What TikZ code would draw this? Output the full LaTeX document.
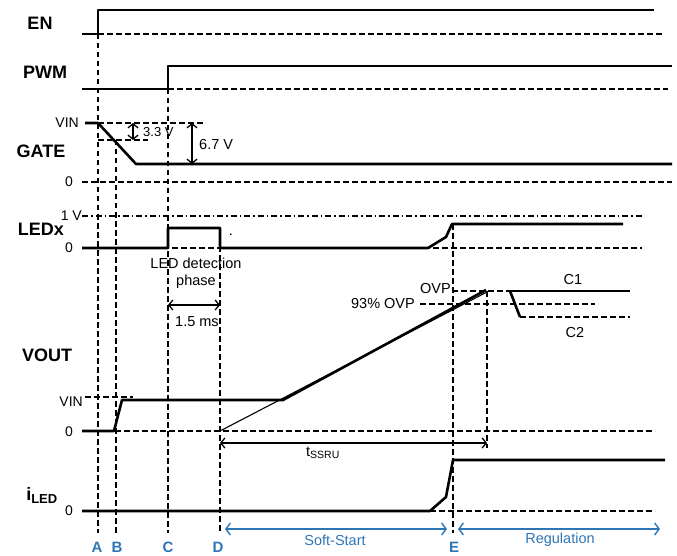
\documentclass[tikz,border=0pt]{standalone}
\usepackage{fontspec}
\setmainfont{Liberation Sans}
\usetikzlibrary{arrows.meta}
\definecolor{tiblue}{RGB}{46,117,182}

\begin{document}
\begin{tikzpicture}[x=1pt, y=-1pt,
  signal/.style={line width=2.6pt, line join=round},
  ref/.style={line width=1.5pt, dash pattern=on 5.5pt off 3.5pt},
  dashdot/.style={line width=1.2pt, dash pattern=on 6pt off 3pt on 1.5pt off 3pt},
  dimarr/.style={line width=1.3pt, {Straight Barb[length=4pt,width=10pt]}-{Straight Barb[length=4pt,width=10pt]}},
  phasearr/.style={line width=1.4pt, tiblue, {Straight Barb[length=4.5pt,width=12pt]}-{Straight Barb[length=4.5pt,width=12pt]}},
  signame/.style={font=\fontsize{18}{18}\selectfont\bfseries},
  lvl/.style={font=\fontsize{14}{14}\selectfont, anchor=east, inner sep=1pt},
  note/.style={font=\fontsize{14.5}{16.5}\selectfont, inner sep=1pt},
  tlabel/.style={font=\fontsize{15}{15}\selectfont\bfseries, text=tiblue, inner sep=0pt}
]
  \useasboundingbox (0,0) rectangle (677,556);

  % EN
  \node[signame] (en) at (40,23) {EN};
  \draw[ref] (98,34) -- (662,34);
  \draw[signal] (82,34) -- (98,34) -- (98,10) -- (654,10);

  % PWM
  \node[signame] (pwm) at (45,72) {PWM};
  \draw[ref] (168,89) -- (668,89);
  \draw[signal] (82,89) -- (168,89) -- (168,66) -- (672,66);

  % GATE
  \node[signame] (gate) at (41,151) {GATE};
  \node[lvl] (gvin) at (80,123) {VIN};
  \node[lvl] (gzero) at (74,182) {0};
  \draw[ref] (98,123) -- (203,123);
  \draw[ref] (98,140) -- (148,140);
  \draw[ref] (82,182) -- (672,182);
  \draw[signal] (85,123) -- (98,123) -- (136,164) -- (672,164);
  \draw[dimarr] (133,123) -- (133,140);
  \node[lvl, anchor=west, font=\fontsize{13}{13}\selectfont] (v33) at (142,132) {3.3 V};
  \draw[dimarr] (192,123) -- (192,164);
  \node[note, anchor=west] (v67) at (198,145) {6.7 V};

  % LEDx
  \node[signame] (ledx) at (41,229) {LEDx};
  \node[lvl] (lone) at (83,216) {1 V};
  \node[lvl] (lzero) at (74,248) {0};
  \draw[dashdot] (82,216) -- (642,216);
  \draw[ref] (82,248) -- (642,248);
  \draw[signal] (82,248) -- (168,248) -- (168,228) -- (220,228) -- (220,248)
    -- (428,248) -- (446,237) -- (452,224) -- (623,224);
  \node[note] (dot) at (231,235) {.};
  \node[note, align=center] (detect) at (196,273) {LED detection\\phase};
  \draw[dimarr] (168,305) -- (220,305);
  \node[note] (tdet) at (197,322) {1.5 ms};

  % VOUT
  \node[signame] (vout) at (47,355) {VOUT};
  \node[lvl] (vvin) at (84,402) {VIN};
  \node[lvl] (vzero) at (74,432) {0};
  \node[note, anchor=east] (ovp) at (452,289) {OVP};
  \node[note, anchor=east] (ovp93) at (416,304) {93\% OVP};
  \draw[ref] (85,397) -- (133,397);
  \draw[ref] (115,431) -- (655,431);
  \draw[ref] (452,291) -- (510,291);
  \draw[ref] (420,304) -- (595,304);
  \draw[ref] (520,317) -- (630,317);
  \draw[signal] (82,431) -- (114,431) -- (122,400) -- (283,400) -- (486,290);
  \draw[line width=1.1pt] (220,431) -- (487,292);
  \draw[signal] (510,291) -- (630,291);
  \draw[signal] (510,291) -- (520,317);
  \node[note] (cone) at (573,280) {C1};
  \node[note] (ctwo) at (575,333) {C2};
  \draw[dimarr] (220,443) -- (487,443);
  \node[note] (tss) at (323,453) {t\textsubscript{\fontsize{10.5}{10.5}\selectfont SSRU}};

  % iLED
  \node[signame] (iled) at (42,495) {i\textsubscript{\fontsize{13}{13}\selectfont LED}};
  \node[lvl] (izero) at (74,511) {0};
  \draw[ref] (430,511) -- (655,511);
  \draw[signal] (82,511) -- (430,511) -- (446,497) -- (453,460) -- (665,460);

  % time markers
  \draw[ref] (98,34) -- (98,533);
  \draw[ref] (116,140) -- (116,533);
  \draw[ref] (168,89) -- (168,533);
  \draw[ref] (220,228) -- (220,533);
  \draw[ref] (453,224) -- (453,533);
  \draw[ref] (487,291) -- (487,448);
  \node[tlabel] (ta) at (97,547) {A};
  \node[tlabel] (tb) at (117,547) {B};
  \node[tlabel] (tc) at (168,547) {C};
  \node[tlabel] (td) at (218,547) {D};
  \node[tlabel] (te) at (454,547) {E};

  % phases
  \draw[phasearr] (225,529) -- (447,529);
  \node[note, text=tiblue] (soft) at (335,540) {Soft-Start};
  \draw[phasearr] (458,529) -- (660,529);
  \node[note, text=tiblue] (reg) at (560,540) {Regulation};
\end{tikzpicture}
\end{document}
